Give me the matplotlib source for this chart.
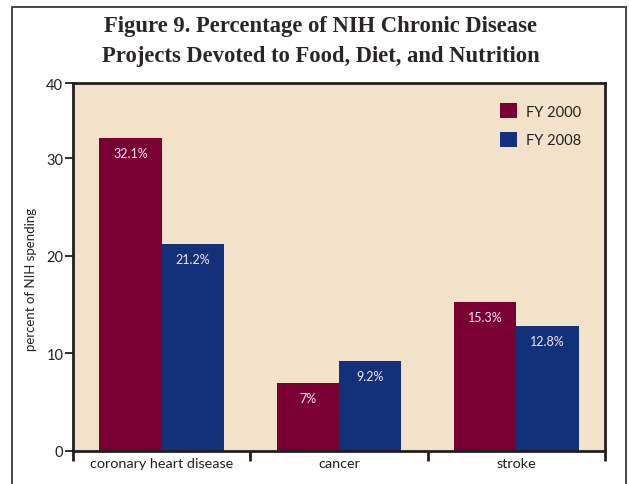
import matplotlib
matplotlib.use("Agg")
import matplotlib.pyplot as plt
from matplotlib.patches import Rectangle, Patch
import numpy as np

categories = ["coronary heart disease", "cancer", "stroke"]
series_names = ["FY 2000", "FY 2008"]
fy2000 = [32.1, 7.0, 15.3]
fy2008 = [21.2, 9.2, 12.8]
value_labels_2000 = ["32.1%", "7%", "15.3%"]
value_labels_2008 = ["21.2%", "9.2%", "12.8%"]
ytick_values = [0, 10, 20, 30]
ytick_labels = ["0", "10", "20", "30", "40"]

red = "#7a0033"
blue = "#13307a"
beige = "#f2e2c9"
ink = "#231f20"
sans = ["Lato", "DejaVu Sans"]

fig = plt.figure(figsize=(6.29, 4.85), dpi=100)
fig.patch.set_facecolor("white")

# outer frame around the figure panel
fig.add_artist(Rectangle((12 / 629, -0.05), (626 - 12) / 629, 1.05 - 8 / 485,
                         transform=fig.transFigure, fill=False,
                         edgecolor="#3a3a3a", linewidth=1.3))

fig.text(0.51, 0.946, "Figure 9. Percentage of NIH Chronic Disease",
         ha="center", va="center", fontsize=16.3, fontweight="bold",
         family="Liberation Serif", color="#2a2526")
fig.text(0.51, 0.884, "Projects Devoted to Food, Diet, and Nutrition",
         ha="center", va="center", fontsize=16.3, fontweight="bold",
         family="Liberation Serif", color="#2a2526")

ax = fig.add_axes([73 / 629, 33 / 485, (605 - 73) / 629, (452 - 84) / 485])
ax.set_facecolor(beige)

x = np.arange(len(categories)) + 0.5
w = 0.352
b1 = ax.bar(x - w / 2, fy2000, w, color=red, label=series_names[0])
b2 = ax.bar(x + w / 2, fy2008, w, color=blue, label=series_names[1])

for rects, labels in ((b1, value_labels_2000), (b2, value_labels_2008)):
    for r, lab in zip(rects, labels):
        ax.annotate(lab, (r.get_x() + r.get_width() / 2, r.get_height()),
                    xytext=(0, -11), textcoords="offset points",
                    ha="center", va="center", color="#f6e6ee",
                    fontsize=9, family=sans)

ymax = 37.7
ax.set_ylim(0, ymax)
ax.set_xlim(0, 3)
ax.set_yticks(ytick_values + [ymax])
ax.set_yticklabels(ytick_labels, fontsize=10.5, family=sans, color=ink)
ax.tick_params(axis="y", direction="out", length=6, width=1.3, color=ink, pad=1)

ax.set_xticks([0, 1, 2, 3])
ax.set_xticklabels([])
ax.tick_params(axis="x", which="major", direction="out", length=7, width=2, color=ink)
ax.set_xticks(x, minor=True)
ax.set_xticklabels(categories, minor=True, fontsize=10.4, family=sans, color=ink)
ax.tick_params(axis="x", which="minor", length=0, pad=4)

for s in ax.spines.values():
    s.set_linewidth(2)
    s.set_color(ink)

ax.set_ylabel("percent of NIH spending", fontsize=9.5, family=sans, color=ink)
ax.yaxis.set_label_coords(-0.068, 0.47)

handles = [Patch(facecolor=red, edgecolor="none"), Patch(facecolor=blue, edgecolor="none")]
ax.legend(handles, series_names, loc="upper right", bbox_to_anchor=(0.98, 0.98),
          frameon=False, handlelength=1.2, handleheight=1.2, handletextpad=0.6,
          labelspacing=0.9, prop={"family": sans, "size": 10.5}, labelcolor=ink)

fig.savefig("out.png", dpi=100, facecolor="white")
